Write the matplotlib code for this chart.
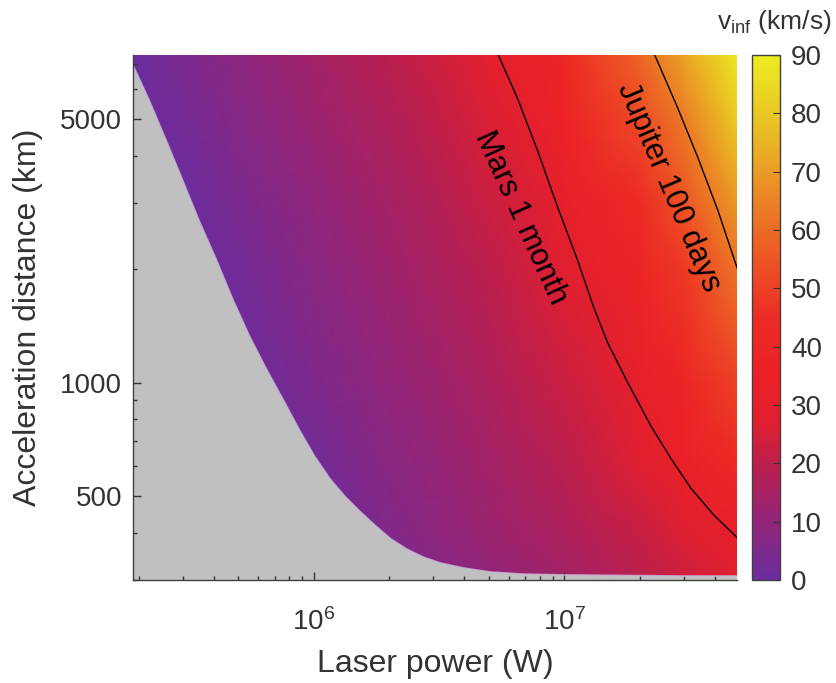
import numpy as np
import matplotlib
matplotlib.use('Agg')
import matplotlib.pyplot as plt
from matplotlib.colors import LinearSegmentedColormap
from matplotlib.ticker import FixedLocator, FixedFormatter, NullFormatter

plt.rcParams['font.family'] = ['Liberation Sans', 'DejaVu Sans']
plt.rcParams['mathtext.fontset'] = 'custom'
plt.rcParams['mathtext.rm'] = 'Liberation Sans'
plt.rcParams['mathtext.it'] = 'Liberation Sans:italic'

# v_inf (km/s), rows = distance, cols = power
power_grid = [1.9e5, 3e5, 5e5, 1e6, 2e6, 3e6, 5e6, 1e7, 2e7, 3e7, 5e7]
dist_grid = [300, 400, 600, 1000, 2000, 3000, 5000, 7400]
v_grid = [
    [0, 0, 0, 0, 4.0, 6.5, 9.5, 14.0, 19.0, 23.0, 28.0],
    [0, 0, 0, 0, 6.0, 8.8, 12.0, 16.5, 22.0, 26.5, 32.5],
    [0, 0, 0, 2.0, 8.0, 10.5, 13.8, 19.3, 26.9, 33.2, 43.1],
    [0, 0, 0, 5.0, 10.0, 12.5, 16.2, 22.5, 31.5, 38.8, 50.4],
    [0, 0, 2.2, 8.0, 12.8, 15.5, 20.0, 27.5, 39.1, 48.0, 62.2],
    [0, 0, 4.5, 9.8, 14.5, 17.5, 22.5, 31.0, 44.2, 54.3, 70.3],
    [0, 2.5, 7.0, 12.0, 17.0, 20.5, 26.0, 36.3, 51.7, 63.4, 82.0],
    [0, 4.5, 8.5, 14.0, 19.5, 23.0, 29.0, 41.0, 58.2, 71.4, 90.0],
]

# edge of the grey (no escape) region
bound_P = [1.85e5, 1.894e5, 2.21e5, 2.58e5, 3.00e5, 3.48e5, 4.09e5, 4.76e5, 5.55e5,
           6.48e5, 7.55e5, 8.81e5, 1.011e6, 1.161e6, 1.333e6, 1.531e6, 1.758e6,
           2.018e6, 2.36e6, 2.74e6, 3.20e6, 3.96e6, 5.08e6, 6.88e6, 9.67e6, 1.68e7,
           2.92e7, 4.94e7]
bound_L = [7400, 6990, 5594, 4387, 3443, 2701, 2119, 1662, 1328,
           1087, 903, 746, 637, 557, 500, 456, 419,
           387, 362, 345, 333, 323, 315, 311, 309.6, 308.5,
           307.5, 307.5]

mars_P = [5.46e6, 6.50e6, 7.83e6, 9.42e6, 1.13e7, 1.31e7, 1.49e7, 1.79e7, 2.22e7,
          2.67e7, 3.21e7, 3.96e7, 4.94e7]
mars_L = [7400, 5700, 4130, 2925, 2120, 1592, 1280, 1004, 769, 630, 525, 446, 387]

jup_P = [2.30e7, 2.84e7, 3.42e7, 4.11e7, 4.94e7]
jup_L = [7400, 5360, 3955, 2866, 1990]

cmap_vals = [0, 10, 20, 27, 35, 45, 55, 65, 75, 90]
cmap_cols = ['#6a2d9f', '#922579', '#bd1f4c', '#e01f30', '#ec2026', '#ec2c25',
             '#ed5525', '#eb8226', '#e9b425', '#ecec22']
cmap = LinearSegmentedColormap.from_list(
    'vinf', [(v / 90, c) for v, c in zip(cmap_vals, cmap_cols)])

txt = '#333333'

fig = plt.figure(figsize=(8.37, 6.83), dpi=100)
ax = fig.add_axes([0.1589, 0.1508, 0.7216, 0.7687])
cax = fig.add_axes([0.8984, 0.1508, 0.0335, 0.7687])

mesh = ax.pcolormesh(power_grid, dist_grid, np.array(v_grid), shading='gouraud',
                     cmap=cmap, vmin=0, vmax=90, rasterized=True)

xmin, xmax = 1.9e5, 4.9e7
ymin, ymax = 300, 7400
poly_x = bound_P + [xmax * 2, xmin / 2, xmin / 2]
poly_y = bound_L + [ymin / 2, ymin / 2, ymax * 2]
ax.fill(poly_x, poly_y, color='#c0c0c0', lw=0)
ax.plot(bound_P, bound_L, color='#cbb8d8', lw=1.2, alpha=0.8)

ax.plot(mars_P, mars_L, color='black', lw=1.0)
ax.plot(jup_P, jup_L, color='black', lw=1.0)

ax.text(6.68e6, 2735, 'Mars 1 month', fontsize=22, rotation=-65.7,
        rotation_mode='anchor', ha='center', va='center', color='black')
ax.text(2.61e7, 3296, 'Jupiter 100 days', fontsize=22, rotation=-67,
        rotation_mode='anchor', ha='center', va='center', color='black')

ax.set_xscale('log')
ax.set_yscale('log')
ax.set_xlim(xmin, xmax)
ax.set_ylim(ymin, ymax)

ax.yaxis.set_major_locator(FixedLocator([500, 1000, 5000]))
ax.yaxis.set_minor_locator(FixedLocator([300, 400, 600, 700, 800, 900, 2000, 3000,
                                         4000, 6000, 7000]))
ax.yaxis.set_major_formatter(FixedFormatter(['500', '1000', '5000']))
ax.yaxis.set_minor_formatter(NullFormatter())

ax.tick_params(which='both', direction='in', labelsize=20, colors='#333333',
               labelcolor=txt, width=1)
ax.tick_params(which='major', length=6)
ax.tick_params(which='minor', length=3)
ax.tick_params(axis='x', pad=20)
ax.tick_params(axis='y', pad=8)
for s in ax.spines.values():
    s.set_color('#404040')
    s.set_linewidth(1)
ax.spines['top'].set_visible(False)
ax.spines['right'].set_visible(False)

ax.set_xlabel('Laser power (W)', fontsize=23, color=txt, labelpad=10)
ax.set_ylabel('Acceleration distance (km)', fontsize=23, color=txt, labelpad=12)

cb = fig.colorbar(mesh, cax=cax)
cb.set_ticks([0, 10, 20, 30, 40, 50, 60, 70, 80, 90])
cb.ax.tick_params(direction='in', labelsize=20, length=5, colors='#333333',
                  labelcolor=txt, pad=8)
cb.outline.set_edgecolor('#404040')
cb.outline.set_linewidth(1)
fig.text(0.994, 0.968, r'$\mathregular{v_{inf}}$ (km/s)', fontsize=19, color=txt,
         ha='right', va='center')

fig.savefig('out.png', dpi=100)
